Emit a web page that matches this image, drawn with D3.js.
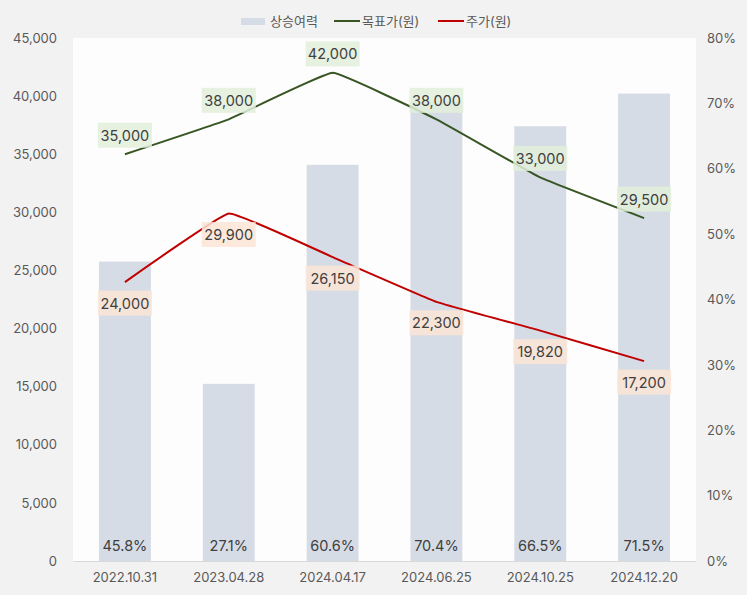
<!DOCTYPE html>
<html><head><meta charset="utf-8">
<script src="https://cdn.jsdelivr.net/npm/d3@7"></script>
<style>body{margin:0;background:#f2f2f2;}svg{display:block;font-family:Inter,"Noto Sans CJK KR",sans-serif;}</style>
</head><body><svg id="c" width="747" height="595"></svg>
<script>
const categories = ["2022.10.31","2023.04.28","2024.04.17","2024.06.25","2024.10.25","2024.12.20"];
const upside = [45.8, 27.1, 60.6, 70.4, 66.5, 71.5];
const targetPrice = [35000, 38000, 42000, 38000, 33000, 29500];
const stockPrice = [24000, 29900, 26150, 22300, 19820, 17200];
const leftTicks = [0,5000,10000,15000,20000,25000,30000,35000,40000,45000];
const rightTicks = [0,10,20,30,40,50,60,70,80];

const svg = d3.select("#c");
const L=73, R=696, T=38, B=561;
svg.append("rect").attr("width",747).attr("height",595).attr("fill","#f2f2f2");
svg.append("rect").attr("x",L).attr("y",T).attr("width",R-L).attr("height",B-T).attr("fill","#fdfdfd");

const x = d3.scaleBand().domain(categories).range([L,R]).paddingInner(0.5).paddingOuter(0.25);
const yL = d3.scaleLinear().domain([0,45000]).range([B,T]);
const yR = d3.scaleLinear().domain([0,80]).range([B,T]);
const cx = d => x(d)+x.bandwidth()/2;

// bars
svg.selectAll(".bar").data(upside).join("rect")
  .attr("x",(d,i)=>x(categories[i])).attr("width",x.bandwidth())
  .attr("y",d=>yR(d)).attr("height",d=>B-yR(d)).attr("fill","#d6dce5");

// baseline
svg.append("line").attr("x1",L).attr("x2",R).attr("y1",B+0.5).attr("y2",B+0.5).attr("stroke","#d9d9d9");

// axes
const fmt = d3.format(",");
const la = svg.append("g").attr("transform",`translate(${L-16},0)`)
  .call(d3.axisLeft(yL).tickValues(leftTicks).tickFormat(fmt).tickSize(0).tickPadding(0));
la.select(".domain").remove();
la.selectAll("text").attr("fill","#595959").attr("font-size",13).attr("font-family","Inter,sans-serif");
const ra = svg.append("g").attr("transform",`translate(${R+11},0)`)
  .call(d3.axisRight(yR).tickValues(rightTicks).tickFormat(d=>d+"%").tickSize(0).tickPadding(0));
ra.select(".domain").remove();
ra.selectAll("text").attr("fill","#595959").attr("font-size",13).attr("font-family","Inter,sans-serif");
const xa = svg.append("g").attr("transform",`translate(0,${B})`)
  .call(d3.axisBottom(x).tickSize(0).tickPadding(12));
xa.select(".domain").remove();
xa.selectAll("text").attr("fill","#595959").attr("font-size",13).attr("font-family","Inter,sans-serif");

// lines
const line = (arr,scale)=>d3.line().x((d,i)=>cx(categories[i])).y(d=>scale(d)).curve(d3.curveCardinal.tension(0.75))(arr);
svg.append("path").attr("d",line(targetPrice,yL)).attr("fill","none").attr("stroke","#375623").attr("stroke-width",2);
svg.append("path").attr("d",line(stockPrice,yL)).attr("fill","none").attr("stroke","#c00000").attr("stroke-width",2);

// labels
function label(txt, px, py, bg){
  const g = svg.append("g");
  g.append("rect").attr("x",px-27).attr("y",py-12.5).attr("width",54).attr("height",25).attr("fill",bg).attr("opacity",0.85);
  g.append("text").attr("x",px).attr("y",py).attr("text-anchor","middle").attr("dominant-baseline","central")
    .attr("font-size",14.5).attr("fill","#404040").text(txt);
}
targetPrice.forEach((v,i)=>label(fmt(v), cx(categories[i]), yL(v)-19, "#e2efda"));
stockPrice.forEach((v,i)=>label(fmt(v), cx(categories[i]), yL(v)+21, "#fbe5d6"));
upside.forEach((v,i)=>{
  svg.append("text").attr("x",cx(categories[i])).attr("y",545).attr("text-anchor","middle").attr("dominant-baseline","central")
    .attr("font-size",14.5).attr("fill","#404040").text(v.toFixed(1)+"%");
});

// legend
const lg = svg.append("g").attr("font-size",13).attr("fill","#595959");
lg.append("rect").attr("x",241).attr("y",18).attr("width",24).attr("height",7).attr("fill","#d6dce5");
lg.append("text").attr("x",270).attr("y",21).attr("dominant-baseline","central").attr("fill","#595959").text("상승여력");
lg.append("line").attr("x1",334).attr("x2",360).attr("y1",21).attr("y2",21).attr("stroke","#375623").attr("stroke-width",2);
lg.append("text").attr("x",362).attr("y",21).attr("dominant-baseline","central").attr("fill","#595959").text("목표가(원)");
lg.append("line").attr("x1",438).attr("x2",464).attr("y1",21).attr("y2",21).attr("stroke","#c00000").attr("stroke-width",2);
lg.append("text").attr("x",466).attr("y",21).attr("dominant-baseline","central").attr("fill","#595959").text("주가(원)");
</script></body></html>
